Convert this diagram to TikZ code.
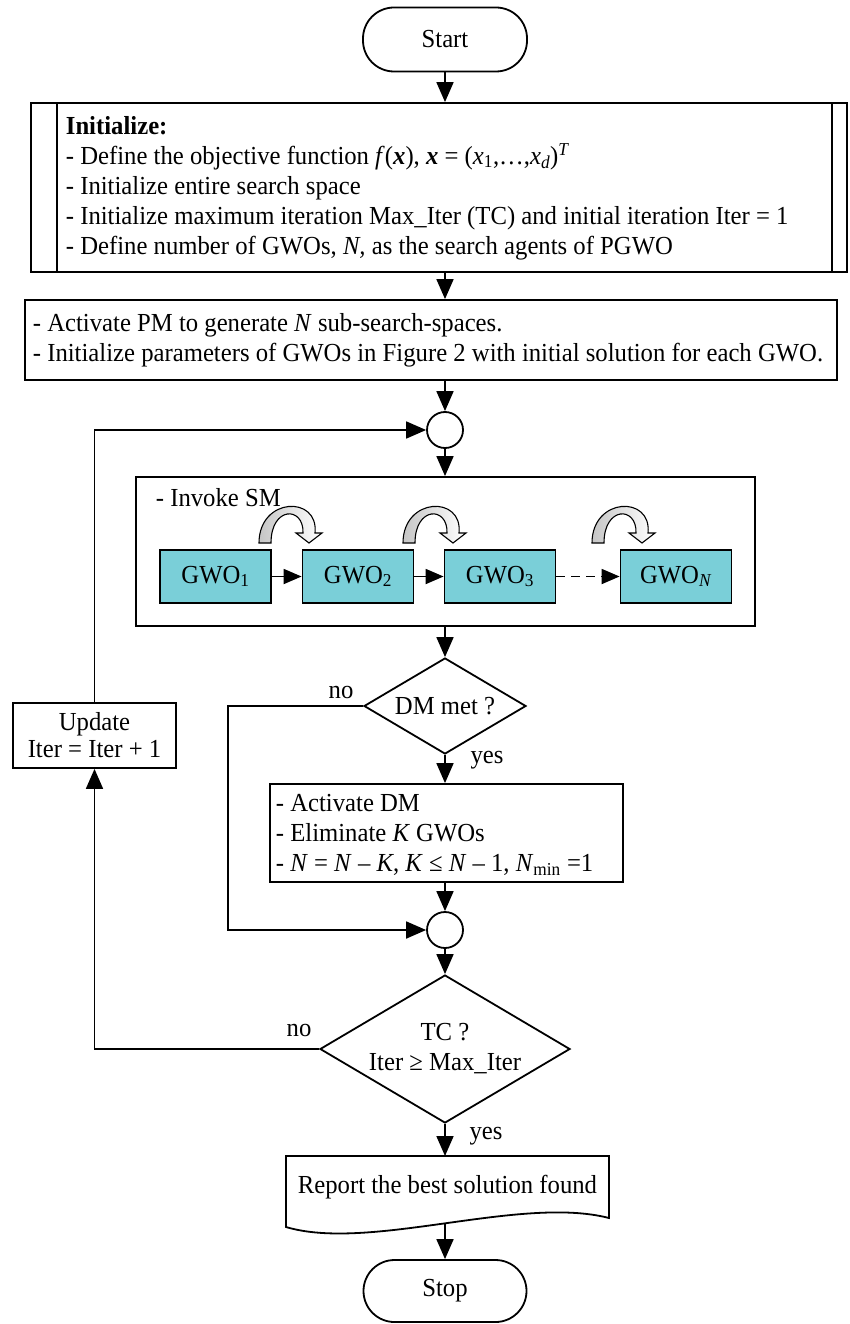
\documentclass[tikz,border=0pt]{standalone}
\usepackage{fontspec}
\setmainfont[FakeStretch=0.95]{Liberation Serif}
\usetikzlibrary{arrows.meta,shapes.geometric,calc}
\definecolor{gwocol}{RGB}{122,207,216}
\newcommand{\fsz}{\fontsize{26}{30}\selectfont}
\newcommand{\curvarr}[1]{%
  \begin{scope}[shift={#1}]
  \draw[line width=1.1pt, left color=gray!45, right color=white]
    (0,0) .. controls (0,-46) and (60,-48) .. (56,-10)
    -- (63,-10) -- (50,0) -- (37,-10) -- (44,-10)
    .. controls (45,-37) and (12,-37) .. (12,0) -- cycle;
  \end{scope}}
\begin{document}
\begin{tikzpicture}[x=1pt,y=-1pt,line width=1.8pt,
  font=\fsz,
  >={Triangle[length=20pt,width=17pt]},
  box/.style={draw,rectangle,inner sep=0pt},
  term/.style={draw,rectangle,rounded corners=31pt,minimum width=164pt,minimum height=64pt},
  junc/.style={draw,circle,minimum size=36pt,inner sep=0pt},
  gwo/.style={draw,fill=gwocol,minimum width=111pt,minimum height=53pt,inner sep=0pt},
  decide/.style={draw,diamond,inner sep=0pt,align=center,aspect=1.69},
  lbl/.style={inner sep=0pt},
  txt/.style={inner sep=0pt,align=left,anchor=west},
  gar/.style={->,>={Triangle[length=18pt,width=15pt]}}]
\useasboundingbox (0,0) rectangle (849,1324);

% Start
\node[term] (start) at (445,39.5) {Start};

% Initialize (predefined process)
\node[box,minimum width=816pt,minimum height=169pt] (init) at (439,187.5) {};
\draw ($(init.north west)+(27,0)$) -- ($(init.south west)+(27,0)$);
\draw ($(init.north east)+(-16,0)$) -- ($(init.south east)+(-16,0)$);
\node[txt] (inittext) at (65,188) {\textbf{Initialize:}\\
- Define the objective function \textit{f}(\textbf{\textit{x}}), \textbf{\textit{x}} = (\textit{x}\textsubscript{1},…,\textit{x}\textsubscript{\textit{d}})\textsuperscript{\textit{T}}\\
- Initialize entire search space\\
- Initialize maximum iteration Max\_Iter (TC) and initial iteration Iter = 1\\
- Define number of GWOs, \textit{N,} as the search agents of PGWO};

% PM box
\node[box,minimum width=812pt,minimum height=80pt] (pm) at (431,340) {};
\node[txt] (pmtext) at (32,340) {- Activate PM to generate \textit{N} sub-search-spaces.\\
- Initialize parameters of GWOs in Figure 2 with initial solution for each GWO.};

% junction 1
\node[junc] (c1) at (445,430) {};

% SM box
\node[box,minimum width=619pt,minimum height=149pt] (sm) at (445.5,551.5) {};
\node[txt] (smtext) at (155,498) {- Invoke SM};
\node[gwo] (g1) at (215.5,576.5) {GWO\textsubscript{1}};
\node[gwo] (g2) at (358,576.5) {GWO\textsubscript{2}};
\node[gwo] (g3) at (500,576.5) {GWO\textsubscript{3}};
\node[gwo] (gN) at (676,576.5) {GWO\textsubscript{\textit{N}}};
\draw[gar] (g1) -- (g2);
\draw[gar] (g2) -- (g3);
\draw[gar,dash pattern=on 9pt off 6pt] (g3) -- (gN);
\curvarr{(259,543)}
\curvarr{(403,543)}
\curvarr{(592,543)}

% DM decision
\node[decide,minimum width=162pt,minimum height=96pt] (dm) at (445,706) {DM met ?};
\node[box,minimum width=353pt,minimum height=98pt] (dmbox) at (446.5,833) {};
\node[txt] (dmtext) at (275,835) {- Activate DM\\
- Eliminate \textit{K} GWOs\\
- \textit{N} = \textit{N} – \textit{K}, \textit{K} ≤ \textit{N} – 1, \textit{N}\textsubscript{min} =1};

% junction 2
\node[junc] (c2) at (445,930) {};

% TC decision
\node[decide,minimum width=250pt,minimum height=148pt] (tc) at (445,1049) {TC ?\\Iter ≥ Max\_Iter};

% Update
\node[box,minimum width=163pt,minimum height=65pt,align=center,font=\fontsize{26}{27}\selectfont] (upd) at (94.5,735.5) {Update\\Iter = Iter + 1};

% Report (document shape)
\coordinate (reptop) at (445,1156);
\coordinate (repbot) at (445,1223);
\draw (286,1156) -- (609,1156) -- (609,1218)
  .. controls (520,1195) and (370,1252) .. (286,1227) -- cycle;
\node[lbl] (report) at (447.5,1187) {Report the best solution found};

% Stop
\node[term,minimum width=163pt,minimum height=62pt] (stop) at (445,1291) {Stop};

% connectors
\draw[->] (start) -- (start |- init.north);
\draw[->] (start |- init.south) -- (start |- pm.north);
\draw[->] (c1 |- pm.south) -- (c1);
\draw[->] (c1) -- (c1 |- sm.north);
\draw[->] (c1 |- sm.south) -- (dm);
\draw[->] (dm) -- (dm |- dmbox.north);
\draw[->] (dm |- dmbox.south) -- (c2);
\coordinate (nl) at (228,706);
\draw[->] (dm.west) -- (nl) |- (c2);
\draw[->] (c2) -- (tc);
\draw[->] (tc) -- (reptop);
\draw[->] (repbot) -- (stop);
\coordinate (tl) at (94.5,1049);
\draw[->] (tc.west) -- (tl) -- (upd);
\coordinate (ul) at (94.5,430);
\draw[->] (upd) -- (ul) -- (c1);

% labels
\node[lbl] (no1) at (341,692) {no};
\node[lbl] (yes1) at (487,760) {yes};
\node[lbl] (no2) at (299,1030) {no};
\node[lbl] (yes2) at (486,1136) {yes};
\end{tikzpicture}
\end{document}
